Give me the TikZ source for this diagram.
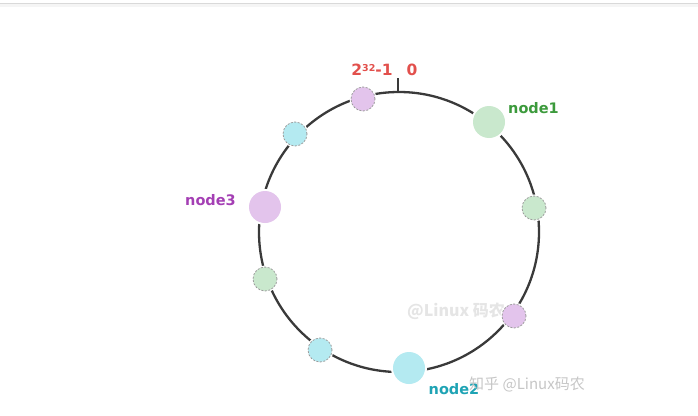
\documentclass[tikz,border=0pt]{standalone}
\usepackage{fontspec}
\setmainfont{DejaVu Sans}
\newfontfamily\cjkfont{Noto Sans CJK SC}
\definecolor{ringgray}{HTML}{3A3A3A}
\definecolor{dashgray}{HTML}{9C9C9C}
\definecolor{pfill}{HTML}{E3C4EC}
\definecolor{cfill}{HTML}{B4EAF1}
\definecolor{gfill}{HTML}{C9E8CD}
\definecolor{gtext}{HTML}{3C9A3C}
\definecolor{ptext}{HTML}{A43FB4}
\definecolor{ctext}{HTML}{1EA3B4}
\definecolor{rtext}{HTML}{E2504C}
\begin{document}
\begin{tikzpicture}[x=1pt,y=-1pt,
  bignode/.style={circle, minimum size=32pt, inner sep=0pt,
    preaction={draw=white, line width=4pt}},
  smallnode/.style={circle, minimum size=24pt, inner sep=0pt,
    draw=dashgray, dash pattern=on 2pt off 1.5pt, line width=0.8pt,
    preaction={draw=white, solid, line width=3pt}},
  lbl/.style={font=\fontsize{14.5}{17}\selectfont\bfseries, inner sep=0pt},
  wm/.style={font=\cjkfont\fontsize{15}{17}\selectfont, inner sep=0pt}
]
\useasboundingbox (0,0) rectangle (698,415);
% top page edge
\fill[gray!8] (0,3.5) rectangle (698,7);
\draw[gray!30, line width=0.8pt] (0,3.5) -- (698,3.5);
% ring
\coordinate (c) at (399,232);
\draw[draw=ringgray, line width=2.3pt] (c) circle[radius=140pt];
\coordinate (top) at (398,93);
\coordinate (ticktop) at (398,78);
\draw[draw=ringgray, line width=2.3pt] (top) -- (ticktop);
% watermark behind
\node[wm, text=gray!20, font=\cjkfont\fontsize{16}{18}\selectfont\bfseries] (wm1) at (456,311) {@Linux 码农};
% nodes
\node[smallnode, fill=pfill] (s1) at (363,99) {};
\node[smallnode, fill=cfill] (s2) at (295,134) {};
\node[bignode, fill=pfill] (n3) at (265,207) {};
\node[smallnode, fill=gfill] (s3) at (265,279) {};
\node[smallnode, fill=cfill] (s4) at (320,350) {};
\node[bignode, fill=cfill] (n2) at (409,368) {};
\node[smallnode, fill=pfill] (s5) at (514,316) {};
\node[smallnode, fill=gfill] (s6) at (534,208) {};
\node[bignode, fill=gfill] (n1) at (489,122) {};
% labels
\node[lbl, text=gtext] (l1) at (533.5,108) {node1};
\node[lbl, text=ptext] (l3) at (210.5,200) {node3};
\node[lbl, text=ctext] (l2) at (454,389) {node2};
\node[lbl, text=rtext, font=\fontsize{15.5}{18}\selectfont\bfseries] (lmax) at (372,70) {2\raisebox{0.45ex}{\fontsize{9.5}{10}\selectfont 32}-1};
\node[lbl, text=rtext, font=\fontsize{15.5}{18}\selectfont\bfseries] (lzero) at (412,70) {0};
% watermark front
\node[wm, text=gray!45, anchor=west] (wm2) at (469,384) {知乎 @Linux码农};
\end{tikzpicture}
\end{document}
